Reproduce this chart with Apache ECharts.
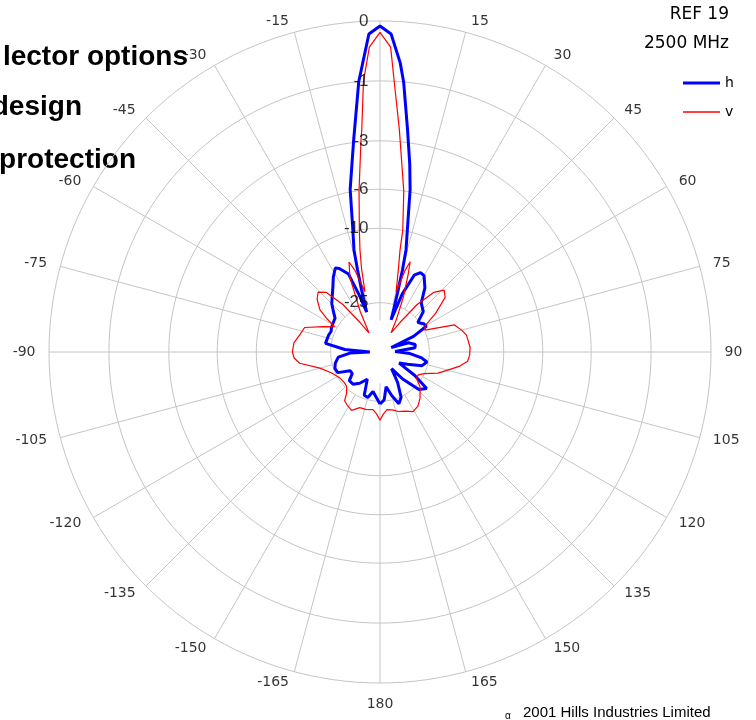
<!DOCTYPE html>
<html><head><meta charset="utf-8">
<script src="https://cdn.jsdelivr.net/npm/echarts@6/dist/echarts.min.js"></script>
<style>html,body{margin:0;padding:0;background:#fff}#c{width:756px;height:720px}</style>
</head><body><div id="c"></div>
<script>
// ring levels (dB) and their labels
const ringDb = [0, -1, -3, -6, -10, -25];
const ringLabels = ['0', '-1', '-3', '-6', '-10', '-25'];
// angle ticks (deg) and labels
const angleTicks = [15,30,45,60,75,90,105,120,135,150,165,180,195,210,225,240,255,270,285,300,315,330,345];
const angleTickLabels = ['15','30','45','60','75','90','105','120','135','150','165','180','-165','-150','-135','-120','-105','-90','-75','-60','-45','-30','-15'];
// h polarisation: [angle deg, level dB]
const hPattern = [[-180,-24.2],[-175,-26.3],[-170,-27.9],[-165,-25.7],[-160,-26.0],[-155,-31.5],[-147,-28.9],[-140,-27.3],[-133,-27.3],[-128,-29.6],[-122,-29.6],[-116,-25.7],[-110,-25.4],[-104,-26.0],[-97,-27.3],[-92,-31.5],[-89.5,-39.9],[-86,-29.6],[-81,-23.3],[-72,-23.6],[-67,-23.9],[-63,-23.5],[-58,-23.3],[-53,-23.0],[-50,-21.9],[-45,-19.9],[-40,-18.5],[-36,-17.2],[-32,-15.6],[-28,-14.3],[-26,-14.7],[-22,-16.4],[-20,-21.9],[-18.5,-27.3],[-16.5,-20.6],[-15.3,-16.2],[-14.3,-12.6],[-12.4,-9.6],[-10.4,-5.8],[-7.1,-2.9],[-4.5,-1.0],[-2,-0.16],[0,-0.06],[2,-0.16],[4,-0.61],[5,-1.0],[7,-2.4],[9,-4.1],[10.5,-5.8],[12.5,-9.6],[14.3,-12.6],[15.3,-16.2],[16.3,-20.6],[17.5,-25.4],[19,-30.0],[21,-21.4],[24,-16.4],[27,-15.4],[30,-15.6],[35,-17.6],[40,-20.9],[47,-22.2],[52,-25.4],[57,-24.2],[61,-23.9],[65,-29.0],[68,-39.0],[72,-31.5],[78,-29.3],[83,-29.6],[88,-37.6],[93,-31.5],[98,-27.3],[102,-25.4],[108,-26.6],[114,-31.5],[120,-34.6],[124,-27.3],[128,-22.2],[134,-23.6],[140,-29.6],[145,-35.4],[150,-29.6],[155,-24.8],[160,-23.3],[165,-26.3],[170,-29.6],[175,-25.4],[180,-24.2]];
// v polarisation: [angle deg, level dB]
const vPattern = [[-180,-19.9],[-177,-21.4],[-173,-22.5],[-166,-22.2],[-160,-22.2],[-154,-20.7],[-148,-21.4],[-144,-21.9],[-141,-23.9],[-136,-25.4],[-131,-25.7],[-122,-25.4],[-113,-23.9],[-105,-21.4],[-98,-17.0],[-94,-16.0],[-90,-15.7],[-84,-15.9],[-78,-16.8],[-72,-17.4],[-66,-21.4],[-61,-24.2],[-58,-21.4],[-55,-18.7],[-50,-16.8],[-46,-16.0],[-42,-17.2],[-38,-21.9],[-34,-29.6],[-30,-34.6],[-26,-26.3],[-22,-17.2],[-19,-14.3],[-17,-16.2],[-14,-21.4],[-12.5,-16.2],[-11.1,-12.8],[-9.6,-10],[-7.4,-6],[-5.1,-2.9],[-4.7,-2.5],[-3.5,-1.0],[-2,-0.35],[0,-0.14],[2,-0.35],[3,-1.0],[5,-2.5],[5.4,-2.9],[8.4,-6.0],[10.6,-10],[11.1,-12.8],[12.5,-16.2],[15,-21.4],[17,-16.2],[18.5,-14.3],[20,-16.8],[23,-21.9],[27,-29.6],[30,-34.6],[34,-29.6],[38,-21.9],[42,-17.2],[46,-15.4],[50,-16.2],[55,-19.9],[60,-24.2],[64,-24.8],[70,-17.4],[75,-16.3],[79,-15.6],[87,-15.2],[92,-15.3],[96,-15.6],[100,-17.0],[104,-19.0],[110,-21.5],[116,-25.0],[121,-26.5],[126,-26.3],[131,-23.9],[139,-21.7],[145,-20.4],[151,-19.9],[157,-20.9],[163,-21.4],[168,-22.2],[173,-22.5],[177,-21.4],[180,-19.9]];

const FLOOR_DB = -45;
// logarithmic-in-(1-dB) radial mapping used by the pattern plot
function t(db) { return 1 - Math.log(1 - Math.max(db, FLOOR_DB)) / Math.log(1 - FLOOR_DB); }
function toPolar(p) { return p.map(d => [t(d[1]), d[0] < 0 ? d[0] + 360 : d[0]]); }

const R0 = 331, RMAX = 1.1;
const GRID = '#c4c4c4';
const series = [];
ringDb.forEach(db => {
  const pts = [];
  for (let a = 0; a <= 360; a += 2) pts.push([t(db), a]);
  series.push({ type: 'line', coordinateSystem: 'polar', data: pts, symbol: 'none', silent: true,
    lineStyle: { color: GRID, width: 1 }, z: 1, animation: false });
});
[0].concat(angleTicks).forEach(a => {
  const inner = (a === 0 || a === 180) ? t(-31) : t(-25);
  series.push({ type: 'line', coordinateSystem: 'polar', data: [[inner, a], [1, a]], symbol: 'none', silent: true,
    lineStyle: { color: GRID, width: 1 }, z: 1, animation: false });
});
// ring labels
series.push({ type: 'scatter', coordinateSystem: 'polar', silent: true, symbolSize: 1, z: 5,
  itemStyle: { color: 'rgba(0,0,0,0)' },
  data: ringDb.map((db, i) => ({ value: [t(db), 0], label: { formatter: ringLabels[i] } })),
  label: { show: true, position: 'left', distance: 11, color: '#000', fontSize: 17, fontFamily: '"Liberation Sans", Arial, sans-serif' } });
// angle labels, anchored just outside the outer ring
series.push({ type: 'scatter', coordinateSystem: 'polar', silent: true, symbolSize: 1, z: 5,
  itemStyle: { color: 'rgba(0,0,0,0)' },
  data: angleTicks.map((a, i) => {
    const pos = a === 180 ? 'bottom' : (a < 180 ? 'right' : 'left');
    return { value: [(a === 180 ? 343 : 342) / R0, a], label: { formatter: angleTickLabels[i], position: pos } };
  }),
  label: { show: true, distance: 2, color: '#000', fontSize: 14, fontFamily: '"DejaVu Sans", sans-serif' } });
series.push({ name: 'h', type: 'line', coordinateSystem: 'polar', data: toPolar(hPattern), symbol: 'none',
  lineStyle: { color: '#0000ff', width: 3 }, itemStyle: { color: '#0000ff' }, z: 3, animation: false });
series.push({ name: 'v', type: 'line', coordinateSystem: 'polar', data: toPolar(vPattern), symbol: 'none',
  lineStyle: { color: '#ff0000', width: 1.2 }, itemStyle: { color: '#ff0000' }, z: 4, animation: false });

const chart = echarts.init(document.getElementById('c'), null, { renderer: 'canvas' });
chart.setOption({
  backgroundColor: '#fff',
  animation: false,
  polar: { center: [380, 352], radius: R0 * RMAX },
  angleAxis: { type: 'value', min: 0, max: 360, interval: 15, startAngle: 90, clockwise: true,
    axisLine: { show: false }, axisTick: { show: false }, splitLine: { show: false }, axisLabel: { show: false } },
  radiusAxis: { type: 'value', min: 0, max: RMAX, axisLine: { show: false }, axisTick: { show: false },
    axisLabel: { show: false }, splitLine: { show: false } },
  legend: {
    data: [
      { name: 'h', icon: 'path://M0 0H37V3H0Z', itemStyle: { color: '#0000ff', borderWidth: 0 } },
      { name: 'v', icon: 'path://M0 0H37V1.3H0Z', itemStyle: { color: '#ff0000', borderWidth: 0 } }
    ],
    orient: 'vertical', left: 678, top: 71, padding: 5, itemWidth: 37, itemHeight: 14, itemGap: 15,
    align: 'left', selectedMode: false, symbolKeepAspect: true,
    textStyle: { fontSize: 14, color: '#000', fontFamily: '"DejaVu Sans", sans-serif' } },
  graphic: [
    { type: 'text', right: 27, top: 6, style: { text: 'REF 19', font: '17px "DejaVu Sans", sans-serif', fill: '#000' } },
    { type: 'text', right: 27, top: 35, style: { text: '2500 MHz', font: '17px "DejaVu Sans", sans-serif', fill: '#000' } },
    { type: 'text', x: 188, y: 57, style: { text: 'lector options', align: 'right', verticalAlign: 'middle', font: 'bold 28px "Liberation Sans", Arial, sans-serif', fill: '#000' } },
    { type: 'text', x: 82, y: 107, style: { text: 'design', align: 'right', verticalAlign: 'middle', font: 'bold 28px "Liberation Sans", Arial, sans-serif', fill: '#000' } },
    { type: 'text', x: 136, y: 160, style: { text: 'protection', align: 'right', verticalAlign: 'middle', font: 'bold 28px "Liberation Sans", Arial, sans-serif', fill: '#000' } },
    { type: 'text', x: 505, y: 716, style: { text: 'α', verticalAlign: 'middle', font: '10px "Liberation Sans", Arial, sans-serif', fill: '#000' } },
    { type: 'text', x: 523, y: 713, style: { text: '2001 Hills Industries Limited', verticalAlign: 'middle', font: '15px "Liberation Sans", Arial, sans-serif', fill: '#000' } }
  ],
  series: series
});
</script>
</body></html>
